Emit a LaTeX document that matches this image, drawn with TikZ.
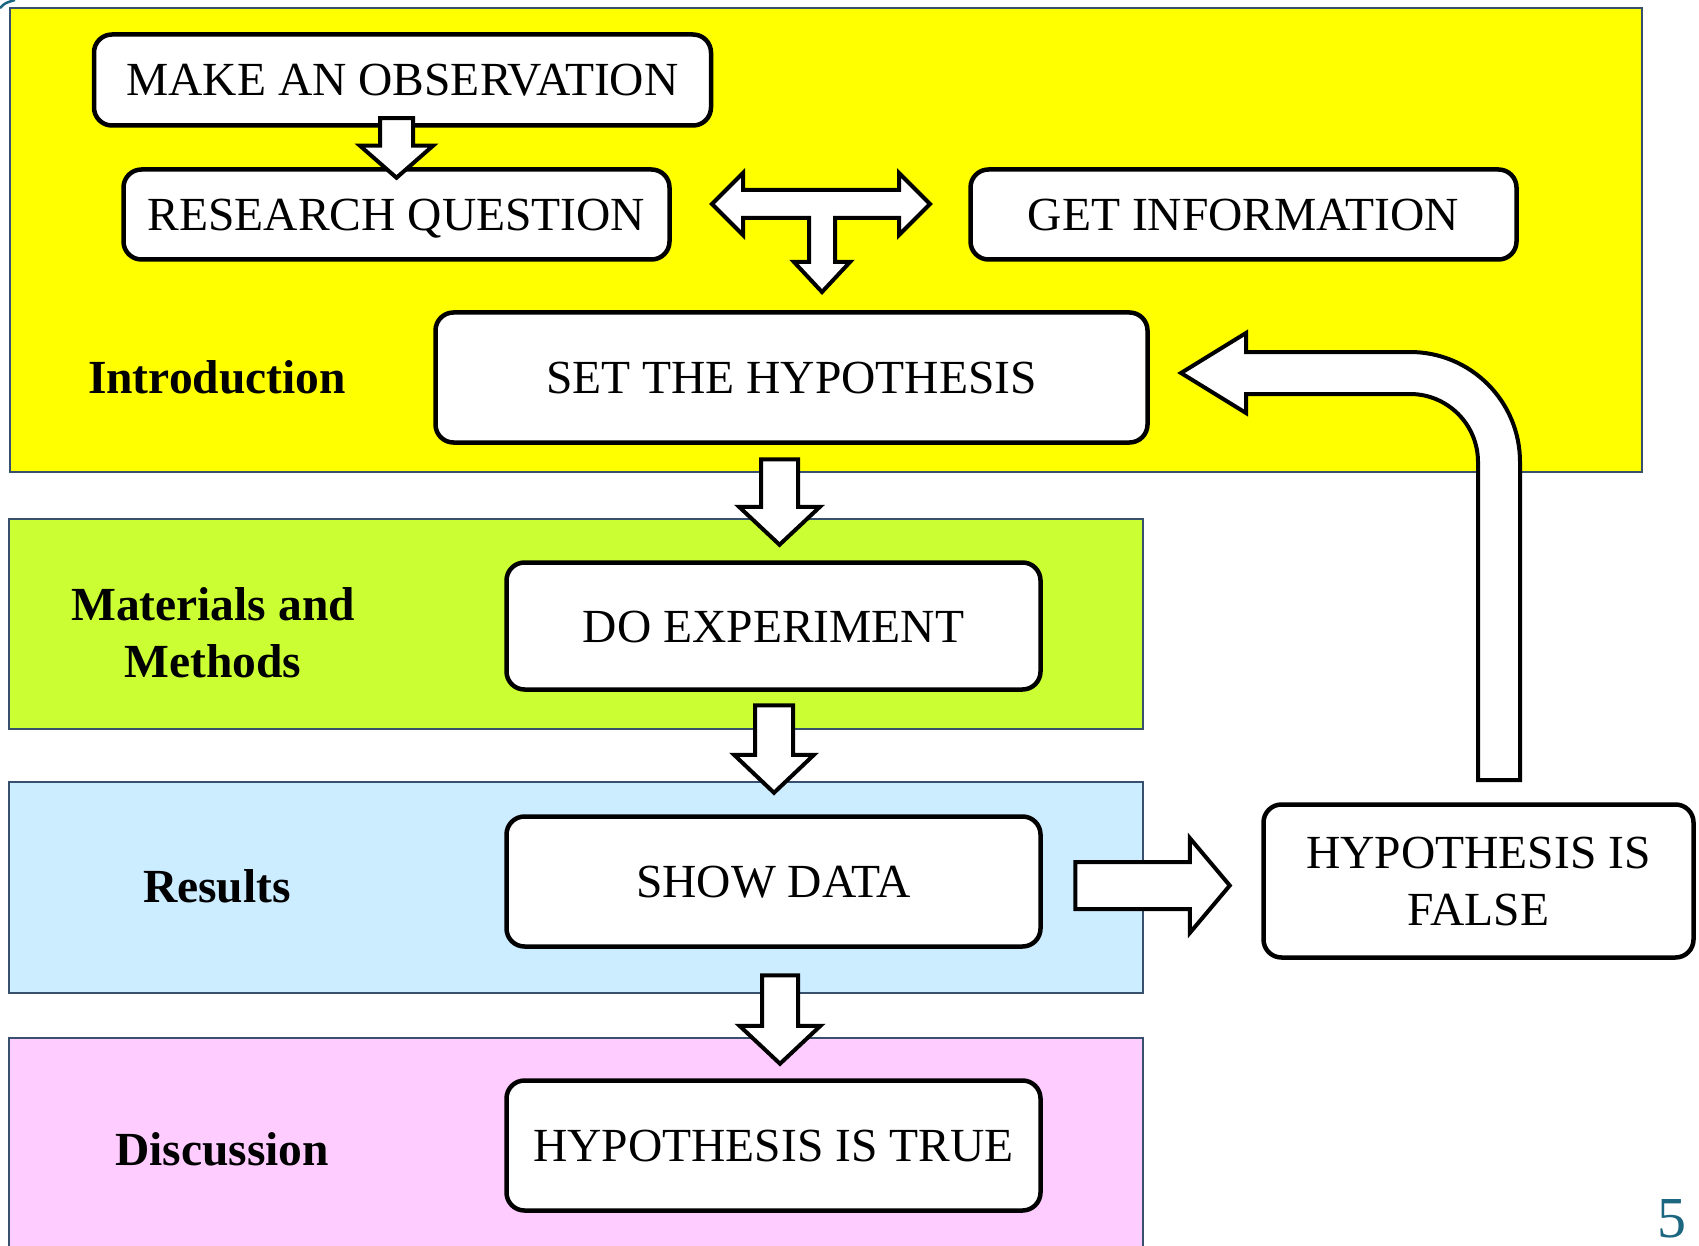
\documentclass[tikz,border=0pt]{standalone}
\usepackage{fontspec}
\setmainfont{Liberation Serif}
\usepackage{xcolor}
\usepackage{tikz}
\usetikzlibrary{calc, positioning}

\definecolor{introyellow}{RGB}{255,255,0}
\definecolor{methgreen}{RGB}{204,255,51}
\definecolor{resblue}{RGB}{204,236,255}
\definecolor{discpink}{RGB}{255,204,255}
\definecolor{bandedge}{RGB}{56,80,110}
\definecolor{slideteal}{RGB}{28,102,128}

\begin{document}
\begin{tikzpicture}[x=1pt, y=-1pt,
				band/.style={draw=bandedge, line width=2pt},
				stepbox/.style={draw=black, fill=white, line width=4.5pt, rounded corners=18pt,
					inner sep=0pt, align=center, font=\fontsize{47.5}{57}\selectfont},
				oneline/.style={stepbox, text height=32pt, text depth=0pt},
				sectlabel/.style={align=center, font=\fontsize{47.5}{57}\selectfont\bfseries},
				blockarrow/.style n args={3}{draw=black, fill=white, line width=4pt, line join=miter,
					to path={($(\tikztotarget)!#3!(\tikztostart)$) coordinate (hb)
						($(\tikztostart)!#1!90:(\tikztotarget)$) -- ($(hb)!#1!90:(\tikztotarget)$)
						-- ($(hb)!#2!90:(\tikztotarget)$) -- (\tikztotarget)
						-- ($(hb)!#2!-90:(\tikztotarget)$) -- ($(hb)!#1!-90:(\tikztotarget)$)
						-- ($(\tikztostart)!#1!-90:(\tikztotarget)$) -- cycle}}]
				
				\useasboundingbox[fill=white] (0,0) rectangle (1699,1246);
				\clip (0,0) rectangle (1699,1246);
				
				% section bands
				\draw[band, fill=introyellow] (10,8) rectangle (1642,472);
				\draw[band, fill=methgreen] (9,519) rectangle (1143,729);
				\draw[band, fill=resblue] (9,782) rectangle (1143,993);
				\draw[band, fill=discpink] (9,1038) rectangle (1143,1260);
				\draw[slideteal, line width=2.5pt] (0,8) .. controls (5,3) .. (15,0);
				
				\node[sectlabel] (intro) at (217,377) {Introduction};
				\node[sectlabel] (methods) at (213,633) {Materials and\\Methods};
				\node[sectlabel] (results) at (217,886) {Results};
				\node[sectlabel] (discussion) at (222,1149) {Discussion};
				
				% steps
				\node[oneline, minimum width=617pt, minimum height=91pt] (obs) at (402.5,80) {MAKE AN OBSERVATION};
				\node[oneline, minimum width=546pt, minimum height=90pt] (rq) at (396.5,214.5) {RESEARCH QUESTION};
				\node[oneline, minimum width=546pt, minimum height=90pt] (info) at (1243.5,214.5) {GET INFORMATION};
				\node[oneline, minimum width=712pt, minimum height=130pt] (hyp) at (791.5,377.5) {SET THE HYPOTHESIS};
				\node[oneline, minimum width=534pt, minimum height=127pt] (exp) at (773.5,626) {DO EXPERIMENT};
				\node[oneline, minimum width=534pt, minimum height=130pt] (data) at (773.5,881.5) {SHOW DATA};
				\node[oneline, minimum width=534pt, minimum height=130pt] (true) at (773.5,1145.5) {HYPOTHESIS IS TRUE};
				\node[stepbox, minimum width=430pt, minimum height=153pt] (false) at (1478.5,881) {HYPOTHESIS IS\\FALSE};
				
				% arrow ends
				\coordinate (a1s) at ($(obs.south)+(-6,-9.5)$);
				\coordinate (a1e) at ($(rq.north)+(0,10.5)$);
				\coordinate (a3s) at ($(hyp.south)+(-12,14.5)$);
				\coordinate (a3e) at ($(exp.north)+(6,-15.5)$);
				\coordinate (a4s) at ($(exp.south)+(0.5,13.5)$);
				\coordinate (a4e) at ($(data.north)+(0.5,-21.5)$);
				\coordinate (a5s) at ($(data.south)+(6.5,26.5)$);
				\coordinate (a5e) at ($(true.north)+(6.5,-14.5)$);
				\coordinate (a6s) at ($(data.east)+(32.5,4)$);
				\coordinate (a6e) at ($(false.west)+(-31.5,4.5)$);
				
				\draw[blockarrow={16.5pt}{36.5pt}{32pt}] (a1s) to (a1e);
				\draw[blockarrow={18.5pt}{40.5pt}{38pt}] (a3s) to (a3e);
				\draw[blockarrow={19pt}{40pt}{38pt}] (a4s) to (a4e);
				\draw[blockarrow={18pt}{40.5pt}{38pt}] (a5s) to (a5e);
				\draw[blockarrow={23.5pt}{47.5pt}{40pt}] (a6s) to (a6e);
				
				% tee between question and information
				\draw[draw=black, fill=white, line width=4pt, line join=miter]
					(712,204) -- (743,173) -- (743,190) -- (899,190) -- (899,173) -- (930,204)
					-- (899,235) -- (899,218) -- (835,218) -- (835,262) -- (850,262) -- (822,292)
					-- (794,262) -- (809,262) -- (809,218) -- (743,218) -- (743,235) -- cycle;
				
				% back to the hypothesis
				\draw[draw=black, fill=white, line width=4pt, line join=miter]
					(1478,780) -- (1478,462) arc[start angle=0, end angle=-90, radius=68]
					-- (1246,394) -- (1246,413) -- (1181,373) -- (1246,333) -- (1246,352)
					-- (1410,352) arc[start angle=-90, end angle=0, radius=110] -- (1520,780) -- cycle;
				
				\node[font=\fontsize{58}{58}\selectfont, text=slideteal, anchor=base, inner sep=0pt] (pagenum) at (1672,1237) {5};
			\end{tikzpicture}
\end{document}
